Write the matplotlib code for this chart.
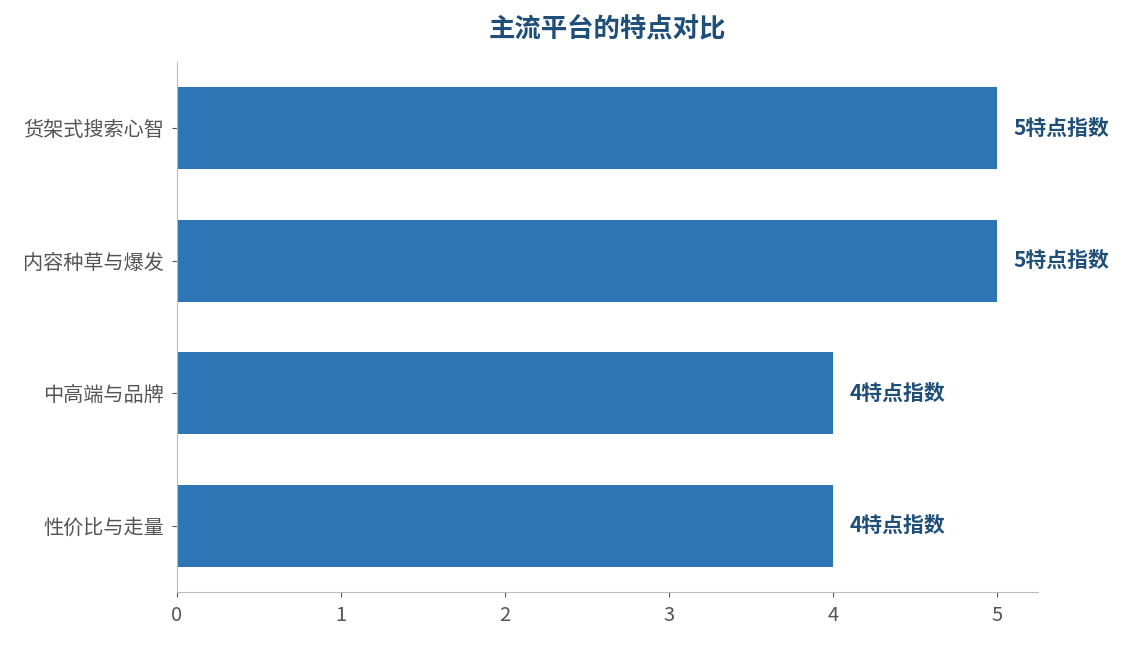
import matplotlib
matplotlib.use("Agg")
import matplotlib.pyplot as plt

plt.rcParams['font.family'] = ['Noto Sans CJK SC', 'DejaVu Sans']

categories = ['性价比与走量', '中高端与品牌', '内容种草与爆发', '货架式搜索心智']
values = [4, 4, 5, 5]
value_labels = ['4特点指数', '4特点指数', '5特点指数', '5特点指数']

fig = plt.figure(figsize=(11.25, 6.45), dpi=100)
ax = fig.add_axes([0.1573, 0.0822, 0.7654, 0.8217])

ax.barh(range(len(categories)), values, height=0.62, color='#2E75B6')
for i, (v, lab) in enumerate(zip(values, value_labels)):
    ax.text(v + 0.1, i, lab, va='center', ha='left', fontsize=15,
            fontweight='bold', color='#1F4E79')

ax.set_yticks(range(len(categories)))
ax.set_yticklabels(categories)
ax.set_xticks([0, 1, 2, 3, 4, 5])
ax.set_xlim(0, 5.25)
ax.set_ylim(-0.5, 3.5)
ax.tick_params(colors='#555555', labelsize=14.5)
ax.tick_params(axis='y', pad=6)
ax.tick_params(axis='x', pad=6)
for s in ['top', 'right']:
    ax.spines[s].set_visible(False)
for s in ['left', 'bottom']:
    ax.spines[s].set_color('#BBBBBB')

fig.text(0.54, 0.953, '主流平台的特点对比', ha='center', va='center',
         fontsize=19, fontweight='bold', color='#1F4E79')

fig.savefig('out.png', dpi=100)
